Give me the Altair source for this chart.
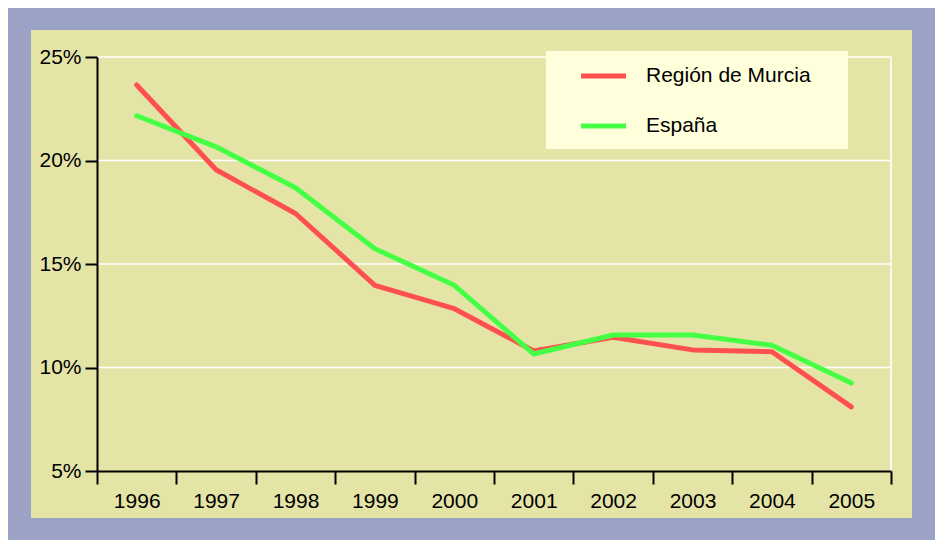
import altair as alt
import pandas as pd

# ---- data ----
years = [1996, 1997, 1998, 1999, 2000, 2001, 2002, 2003, 2004, 2005]
murcia = [23.65, 19.55, 17.44, 13.97, 12.84, 10.8, 11.46, 10.85, 10.76, 8.1]
espana = [22.16, 20.66, 18.68, 15.74, 13.97, 10.65, 11.57, 11.57, 11.07, 9.25]
series_names = ["Región de Murcia", "España"]
series_colors = ["#ff5050", "#44ff44"]
y_ticks = [5, 10, 15, 20, 25]
grid_ticks = [10, 15, 20, 25]

rows = []
for name, vals in zip(series_names, [murcia, espana]):
    for yr, v in zip(years, vals):
        rows.append({"year": yr, "value": v, "series": name})
df = pd.DataFrame(rows)

FONT = "Liberation Sans"
KHAKI = "#e5e4a7"
LAVENDER = "#9ca2c5"

W, H = 794, 414

color = alt.Color(
    "series:N",
    scale=alt.Scale(domain=series_names, range=series_colors),
    legend=alt.Legend(
        title="W",
        titleOrient="right",
        titleColor="#ffffdc",
        titleFontSize=21,
        titlePadding=5,
        orient="none",
        legendX=449,
        legendY=-6,
        fillColor="#ffffdc",
        padding=12.5,
        symbolType="M-2.25,0L2.25,0",
        symbolSize=400,
        symbolStrokeWidth=5,
        symbolOffset=32.5,
        labelOffset=30,
        rowPadding=27,
        labelFontSize=21,
        labelFont=FONT,
        labelColor="black",
        labelLimit=600,
        zindex=1,
    ),
)

x = alt.X(
    "year:O",
    scale=alt.Scale(type="band", paddingInner=0, paddingOuter=0),
    axis=alt.Axis(
        title=None,
        labelAngle=0,
        tickBand="extent",
        tickSize=13,
        labelPadding=6,
        grid=False,
        zindex=1,
    ),
)
y = alt.Y(
    "value:Q",
    scale=alt.Scale(domain=[5, 25], nice=False, zero=False),
    axis=alt.Axis(
        title=None,
        values=y_ticks,
        labelExpr="datum.value + '%'",
        tickSize=12,
        labelPadding=4,
        grid=False,
        zindex=1,
    ),
)

# khaki panel behind the plot and its axes
panel = alt.Chart(pd.DataFrame({"k": [0]})).mark_rect(color=KHAKI).encode(
    x=alt.value(-66), x2=alt.value(W + 21), y=alt.value(-27), y2=alt.value(H + 47)
)

# white horizontal grid lines
grid = alt.Chart(pd.DataFrame({"tick": grid_ticks})).mark_rule(
    color="white", strokeWidth=1.5
).encode(y=alt.Y("tick:Q"))

# white right border of the plot area
border = alt.Chart(pd.DataFrame({"k": [0]})).mark_rule(
    color="white", strokeWidth=1.5
).encode(
    x=alt.value(W),
    y=alt.Y(datum=y_ticks[0]),
    y2=alt.Y2(datum=y_ticks[-1]),
)

base = alt.Chart(df).mark_line(strokeWidth=5, strokeCap="round", strokeJoin="round").encode(
    x=x, y=y, color=color
)
red = base.transform_filter(alt.datum.series == series_names[0])
green = base.transform_filter(alt.datum.series == series_names[1])

chart = (
    alt.layer(panel, grid, border, red, green)
    .properties(
        width=W,
        height=H,
        background=LAVENDER,
        autosize=alt.AutoSizeParams(type="none"),
        padding={"left": 89, "top": 49, "right": 44, "bottom": 69},
    )
    .configure_view(strokeWidth=0)
    .configure_axis(
        domainColor="black",
        domainWidth=2,
        tickColor="black",
        tickWidth=2,
        labelFont=FONT,
        labelFontSize=21,
        labelColor="black",
    )
)

chart.save("out.html", embed_options={"renderer": "svg", "actions": False})
